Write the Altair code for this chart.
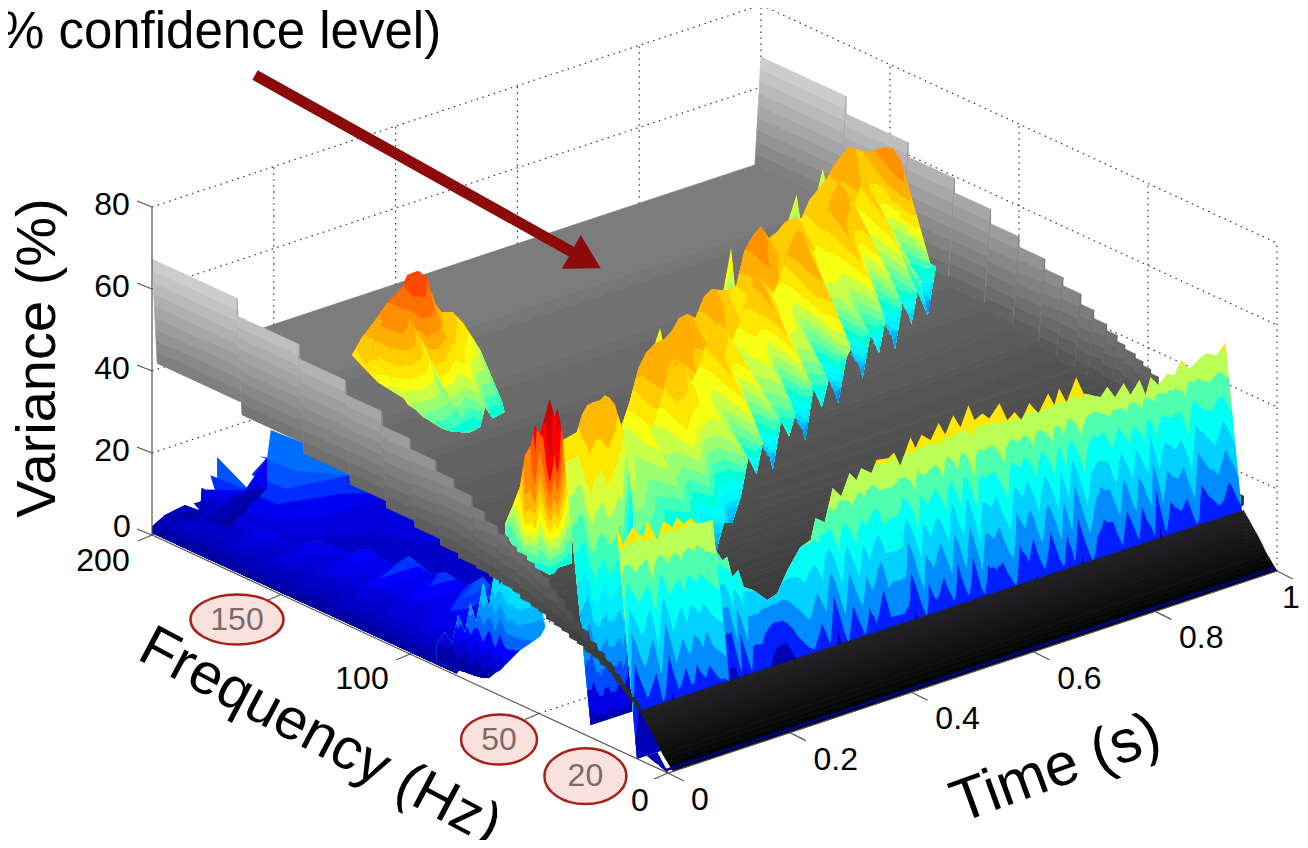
import math
import altair as alt

# ---- axis ticks ------------------------------------------------------------
TIME_TICKS = [0, 0.2, 0.4, 0.6, 0.8, 1]
TIME_LABELS = ["0", "0.2", "0.4", "0.6", "0.8", "1"]
FREQ_TICKS = [0, 50, 100, 150, 200]
VAR_TICKS = [0, 20, 40, 60, 80]

# ---- significance surface (grey): one entry per frequency band ---------------
BAND_EDGES = [200,167,143,125,111,100,90,83,76,71,66,62,59,55,52,49,46,43,40,37,34,31,28,25,22,19,16,13,10,7,4,0]
BAND_TOP = [67.3,63,59.5,56,52.5,50,47.5,45.5,43,41,39.5,38,37,36,35,34,32,30.5,28.5,27,25.5,23.5,22,20.5,18.5,16.5,14.5,12.5,10,7,3.5]
BAND_FLAT = [41.5,38.5,36,33.7,32,30.5,29,28,27.5,27,26.5,26,25,24.5,24,23,22.5,22,21,20.5,19.5,19,18,17,15.5,14,12.5,11,8.5,6,3]

# ---- 20 Hz ridge ---------------------------------------------------------------
R20_T = [0,.011,.026,.044,.051,.067,.077,.092,.1,.11,.122,.13,.141,.158,.163,.174,.182,.19,.2,.209,.225,.248,.264,.281,.302,.319,.327,.342,.355,.369,.383,.394,.402,.419,.427,.447,.456,.466,.483,.491,.501,.516,.529,.54,.553,.565,.578,.588,.601,.612,.629,.642,.654,.665,.678,.693,.709,.719,.727,.739,.755,.767,.78,.795,.806,.819,.833,.844,.859,.869,.877,.89,.905,.916,.928,.941,.957,.969,.985,1.0]
R20_Z = [55,49.4,52.9,49.5,53.3,47.7,52,49.6,51.7,49.5,50.4,48.7,48.2,48.1,40.5,37.5,37.9,32.6,33.8,29.2,27.7,24.1,25,29.8,34.4,35.3,40.2,38.5,46.2,43.5,48.5,46.2,48.7,46.7,49.5,49,49.9,46.1,52.3,49.2,52,50,53.5,50.2,54.2,50.7,55.4,51.3,52.3,50.5,53.4,48.6,50,47.5,51,47.8,51.9,48.5,52.2,48.2,53.5,49,47.9,46.7,48.6,45.5,48.2,44.8,47.7,43.5,47.5,45,47,46,49.2,46.3,48,48.8,47.5,49.9]

# ---- chirping ridge ---------------------------------------------------------------
R2_T = [.10,.15,.22,.27,.30,.325,.35,.375,.40,.425,.45,.475,.50,.525,.55,.575,.60,.625,.65,.675,.70,.725,.75,.775,.80,.825,.85,.875,.90,.925,.95,.975,1.0,.98,.98,.98,.98]
R2_F = [63.6,69,76.7,82.2,85.5,88.2,91,93.7,96.4,99.2,101.9,104.7,107.4,110.1,112.9,115.6,118.4,121.1,123.8,126.6,129.3,132,134.8,137.5,140.3,143,145.8,148.5,151.2,154,156.7,159.5,162.2,152.9,147.9,144,141]
R2_Z = [48,49,50,46.5,51.4,57.2,59,59,57.9,57.8,59.2,58.2,55.2,58.3,58.2,55.9,53.9,52.9,59.6,61,61.4,56.4,55.9,56.3,55.2,53.2,55.6,56,56.4,58,58.7,58.4,55.6,58.8,61.5,62.3,60.3]
R2_BASE_F = [33.6,39,46.7,52.2,55.5,58.2,61,63.7,66.4,69.2,71.9,74.7,77.4,80.1,82.9,85.6,88.4,91.1,93.8,96.6,99.3,102,104.8,107.5,110.3,113,115.8,118.5,121.2,124,126.7,129.5,132.2,130,128.7,128.7,128.7]
R2_BASE_Z = [24,23,24,22,25,21,26,24,28,36,30,38,27,37,31,36,26,37,30,36,27,36,38,27,36,29,37,26,37,28,37,26,36,33,36.3,36.3,36.3]
R2B_Z = [46,50,55,57,54,48,50,55,57,53,48,51,56,58,54,49,52,57,59,55,49,53,58,60,56,51,55,52]
TIP_T = [[.462,.487,.499],[.677,.701,.72],[.882,.906,.922],[.962,.987,1.0]]
TIP_F = [[115,118,119],[139,141,144],[162,164,166],[170,173,174]]
TIP_Z = [[47,50.3,43.9],[41.7,52.7,40.7],[43.4,48.8,40.1],[43,48.5,42.4]]

# ---- 150 Hz patch ---------------------------------------------------------------
R150_T = [.117,.133,.151,.174,.199,.207,.225,.241,.248,.264,.282,.299,.327]
R150_Z = [52.8,56.2,58.8,62.5,65.2,67.7,67.9,65.4,59.7,55.8,55,51.5,43.5]
R150_BASE_F = [150,143.8,136.8,136,131.4,130.2,130.6,131.8,131.4,133.2,134.5,134,141.5]
R150_BASE_Z = [52.5,47,43.8,38.8,35.7,35.4,34,33.5,34,37.6,33.6,34.4,33.3]
R150B_T = [.1325,.146,.167,.187,.203,.223,.239]
R150B_Z = [54.3,59.7,63,60.9,56.2,49.8,40.5]
R150B_BASE_Z = [45,43,39.5,36.6,35,33.8,33.5]

# ---- 50 Hz onset: red lobe, orange lobe, low side ----------------------------------
L1_T = [0,0,.003,.0066,.011,.015,.0186,.026,.034,.039,.048,.055,.062]
L1_F = [63,60,58,57,56,55,54,52,52,52,52,52,52]
L1_Z = [42.7,48,53,60.7,63,68,66,75,70,72,64.2,60,56]
L1_BASE_Z = [40,38,36,35,34,33,33,32,32,33,33,33,33]
L2_T = [.145,.157,.168,.176,.185,.195,.206,.214,.222,.231,.237,.242,.25,.255,.26]
L2_Z = [52.3,52.7,53.1,56.9,58.9,59.1,59,59.9,58.8,56.6,53.1,50.7,43,37,30.3]
L2_BASE_T = [0,.005,.01,.015,.02,.025,.03,.035,.04,.045,.05,.055,.06,.065,.07]
S0_F = [92,89,86,83.7,81,79,76.7,74,71.7,69.4,67.4,64.7,62.4,59.7,52,50]
S0_Z = [4,8,6,13.8,10,18,14,24.4,19,30,25,39.3,33,34,26.6,20.6]
S0_BASE_Z = [0,0,0,.3,.6,.7,.9,1.2,1.9,3.8,5,7.6,9.7,12.2,17.7,20.6]

# ---- low-variance high-frequency floor --------------------------------------------
LOW_T = [0,.021,.054,.079,.082,.107,.107,.16,.17,.189,.189,.195,.2,.22,.25,.25,.25,.25]
LOW_F = [200,200,200,200,200,200,200,200,200,200,200,200,187,175,166,147,127,110]
LOW_Z = [2,3.8,4.6,2,7.4,3.9,13.7,3,4.2,2,9.6,16,16,11,8,7,6,4]
LOW_BASE_F = [200,198,196,194,192,190,188,186,184,182,180,176,165,150,135,120,100,84]
LOW_BASE_Z = [.5,.5,.5,.5,.5,.5,.5,.5,.5,.5,.5,.5,.5,.5,.5,.5,.5,.5]
LOW2_T = [.02,.03,.05,.05,.07,.07,.09,.09,.10,.10,.11,.11,.12,.12,.12,.12]
LOW2_F = [195,185,176,168,160,152,145,138,130,124,118,112,106,100,94,88]
LOW2_Z = [4,6,5,8,6,9,7,10,8,12,9,11,9,13,10,8]
LOW3_T = [.01,.02,.03,.03,.04,.04,.05,.05,.05,.05,.05,.05]
LOW3_F = [165,156,148,140,132,125,118,111,104,97,90,83]
LOW3_Z = [4,5,4.5,6,5,7,6,8,7,9,7,6]

JET_DOMAIN = [0, 10, 30, 50, 70, 80]
JET_RANGE = ["#00008f", "#0000ff", "#00ffff", "#ffff00", "#ff0000", "#800000"]


def project(t, f, z):
    return [round(668 + 609 * t - 2.58 * f, 1), round(773 - 202 * t - 1.19 * f - 4.1 * z, 1)]


def poly(pts, v):
    ring = [project(*p) for p in pts]
    ring.append(ring[0])
    return {"type": "Feature", "v": v, "geometry": {"type": "Polygon", "coordinates": [ring]}}


def path(pts):
    return {"type": "Feature", "geometry": {"type": "LineString", "coordinates": [project(*p) for p in pts]}}


def lerp(a, b, s):
    return a + (b - a) * s


def sheet(T, F, Z, T2, F2, Z2, step, gain=0.0, sub=3, power=1.0, foot=0.0):
    """Colour bands of one strip of surface, from its crest to its foot: each band
    is one polygon bounded by the curve where the surface value crosses a level."""
    n = len(T)
    detail, foot_detail = [], []
    for i in range(n):
        w = Z[max(0, i - 2):i + 3]
        detail.append(max(-2, min(2, Z[i] - sum(w) / len(w))))
        w2 = Z2[max(0, i - 2):i + 3]
        foot_detail.append(Z2[i] - sum(w2) / len(w2))
    cols = []
    for i in range(n - 1):
        for j in range(sub):
            cols.append((i, j / sub))
    cols.append((n - 2, 1.0))
    nscan = 50

    def value(c, s):
        i, a = c
        zc = lerp(Z[i], Z[i + 1], a)
        zb = lerp(Z2[i], Z2[i + 1], a)
        d = lerp(detail[i], detail[i + 1], a)
        d2 = lerp(foot_detail[i], foot_detail[i + 1], a)
        return lerp(zc, zb, s ** power) + gain * d * 4 * s * (1 - s) + foot * d2 * s

    def point(c, s):
        i, a = c
        return (lerp(lerp(T[i], T[i + 1], a), lerp(T2[i], T2[i + 1], a), s),
                lerp(lerp(F[i], F[i + 1], a), lerp(F2[i], F2[i + 1], a), s),
                lerp(lerp(Z[i], Z[i + 1], a), lerp(Z2[i], Z2[i + 1], a), s))

    table = [[value(c, q / nscan) for q in range(nscan + 1)] for c in cols]
    vmax = max(max(r) for r in table)
    vmin = min(min(r) for r in table)
    level = math.ceil(vmax / step) * step
    out = []
    bottom = [point(c, 1.0) for c in reversed(cols)]
    out.append(poly([point(c, 0.0) for c in cols] + bottom, max(0, level - step / 2)))
    level -= step
    while level > vmin:
        top = []
        for c, row in zip(cols, table):
            q = next((k for k, v in enumerate(row) if v < level), nscan)
            top.append(point(c, q / nscan))
        out.append(poly(top + bottom, max(0, level - step / 2)))
        level -= step
    return out


# ---------- grey surface ----------
T_IN, T_OUT = 0.0085, 0.99
back, front = [], []
n_band = len(BAND_TOP)
for b in range(n_band):
    hi, lo = BAND_EDGES[b], BAND_EDGES[b + 1]
    top, flat = BAND_TOP[b], BAND_FLAT[b]
    nxt_flat = BAND_FLAT[b + 1] if b + 1 < n_band else 0
    nxt_top = BAND_TOP[b + 1] if b + 1 < n_band else 0
    if lo < 13:
        # the bands next to 0 Hz slope smoothly to the floor
        for u in range(4):
            f0, f1 = lerp(hi, lo, u / 4), lerp(hi, lo, (u + 1) / 4)
            z0, z1 = lerp(flat, nxt_flat, u / 4), lerp(flat, nxt_flat, (u + 1) / 4)
            front.append(poly([(T_IN, f0, z0), (1, f0, z0), (1, f1, z1), (T_IN, f1, z1)], (z0 + z1) / 2))
        continue
    ribs = max(1, round((top - flat) / 2.8))
    for r in range(ribs):
        z0, z1 = lerp(flat, top, r / ribs), lerp(flat, top, (r + 1) / ribs)
        t0, t1 = lerp(T_OUT, 1, r / ribs), lerp(T_OUT, 1, (r + 1) / ribs)
        back.append(poly([(t0, hi, z0), (t1, hi, z1), (t1, lo, z1), (t0, lo, z0)], (z0 + z1) / 2))
    back.append(poly([(T_OUT, lo, flat), (1, lo, top), (1, lo, nxt_top), (T_OUT, lo, nxt_flat)], (flat + top) / 2))
    back.append(poly([(T_IN, hi, flat), (T_OUT, hi, flat), (T_OUT, lo, flat), (T_IN, lo, flat)], flat))
    back.append(poly([(T_IN, lo, flat), (T_OUT, lo, flat), (T_OUT, lo, nxt_flat), (T_IN, lo, nxt_flat)], (flat + nxt_flat) / 2))
    for r in range(ribs):
        z0, z1 = lerp(flat, top, r / ribs), lerp(flat, top, (r + 1) / ribs)
        t0, t1 = lerp(T_IN, 0, r / ribs), lerp(T_IN, 0, (r + 1) / ribs)
        front.append(poly([(t0, hi, z0), (t1, hi, z1), (t1, lo, z1), (t0, lo, z0)], (z0 + z1) / 2))
    front.append(poly([(T_IN, lo, flat), (0, lo, top), (0, lo, nxt_top), (T_IN, lo, nxt_flat)], (flat + top) / 2))

# ---------- coloured surface, painted back to front ----------
colored = []
colored += sheet(LOW_T, LOW_F, LOW_Z, [0] * len(LOW_T), LOW_BASE_F, LOW_BASE_Z, 2.0, 0, 1, 1.2)
colored += sheet(LOW2_T, LOW2_F, LOW2_Z, [0] * len(LOW2_T), [200 - 7.7 * i for i in range(len(LOW2_T))], [.5] * len(LOW2_T), 1.5, 0, 2, 2.0)
colored += sheet(LOW3_T, LOW3_F, LOW3_Z, [0] * len(LOW3_T), [170 - 8 * i for i in range(len(LOW3_T))], [.5] * len(LOW3_T), 1.5, 0, 2, 2.0)
colored += sheet(R150_T, [150] * len(R150_T), R150_Z, R150_T, R150_BASE_F, R150_BASE_Z, 3.0, 0, 3, 1.5, 1.5)
n = len(R150B_T)
colored += sheet(R150B_T, [146] * n, R150B_Z, R150B_T, [132] * n, R150B_BASE_Z, 3.0, 0, 3, 1.4)
for tt, ff, zz in zip(TIP_T, TIP_F, TIP_Z):
    colored += sheet(tt, ff, zz, tt, ff, [v - 10 for v in zz], 4.0, 0, 1)
colored += sheet(R2_T, R2_F, R2_Z, R2_T, R2_BASE_F, R2_BASE_Z, 3.0, 0, 3, 1.7, 1.6)
inner_t = R2_T[4:32]
colored += sheet(inner_t, [v - 8 for v in R2_F[4:32]], R2B_Z, inner_t, R2_BASE_F[4:32], R2_BASE_Z[4:32], 3.0, 0, 3, 1.7, 1.6)
colored += sheet(L1_T, L1_F, L1_Z, L1_T, L1_F, L1_BASE_Z, 4.0, 2.0, 3, 1.8)
s0_t = [0.01] * len(S0_F)
colored += sheet(s0_t, S0_F, S0_Z, s0_t, S0_F, S0_BASE_Z, 4.0, 1.0, 3)
n = len(L2_T)
colored += sheet(L2_T, [75] * n, L2_Z, L2_BASE_T, [30] * n, [3] * n, 5.0, 2.0, 3, 1.2)
colored += sheet([0, 0, 0], [12, 6, 0], [10.5, 5.5, 0], [0, 0, 0], [9, 4, 0], [2, 1, 0], 2.0, 0, 1)
n = len(R20_T)
colored += sheet(R20_T, [20] * n, R20_Z, R20_T, [12] * n, [0] * n, 7.0, 3.0, 3, 0.88)

# ---------- box, grid, axes ----------
grid = []
for z in VAR_TICKS[1:]:
    grid.append(path([(0, 200, z), (1, 200, z), (1, 0, z)]))
for t in TIME_TICKS[1:-1]:
    grid.append(path([(t, 0, 0), (t, 200, 0), (t, 200, 80)]))
for f in FREQ_TICKS[1:-1]:
    grid.append(path([(0, f, 0), (1, f, 0), (1, f, 80)]))
grid.append(path([(1, 0, 0), (1, 0, 80)]))
grid.append(path([(1, 200, 0), (1, 200, 80)]))
grid.append(path([(0, 200, 0), (1, 200, 0), (1, 0, 0)]))

axes = [path([(0, 200, 0), (0, 200, 80)]), path([(0, 200, 0), (0, 0, 0), (1, 0, 0)])]


def shifted(base, dx, dy):
    return {"type": "Feature", "geometry": {"type": "LineString", "coordinates": [base, [base[0] + dx, base[1] + dy]]}}


for z in VAR_TICKS:
    axes.append(shifted(project(0, 200, z), -15, -6))
for f in FREQ_TICKS:
    axes.append(shifted(project(0, f, 0), -14, 6))
for t in TIME_TICKS:
    axes.append(shifted(project(t, 0, 0), 16, 8))

PROJ = dict(type="identity", scale=1, translate=[-8, -8])
gray_scale = alt.Scale(domain=[0, 80], range=["#000000", "#ffffff"])
jet_scale = alt.Scale(domain=JET_DOMAIN, range=JET_RANGE)


def surface(features, scale, outline=True):
    enc = {"fill": alt.Fill("v:Q", scale=scale, legend=None)}
    if outline:
        enc["stroke"] = alt.Stroke("v:Q", scale=scale, legend=None)
    return (alt.Chart(alt.Data(values=features)).mark_geoshape(strokeWidth=0.7 if outline else 0)
            .encode(**enc).project(**PROJ))


def lines(features, **kw):
    return alt.Chart(alt.Data(values=features)).mark_geoshape(filled=False, **kw).project(**PROJ)


def texts(rows, size, color="#000000", angle=0):
    return (alt.Chart(alt.Data(values=rows))
            .mark_text(font="Liberation Sans", fontSize=size, color=color, angle=angle,
                       align="center", baseline="middle")
            .encode(longitude="x:Q", latitude="y:Q", text="s:N")
            .project(**PROJ))


def at(base, dx, dy, s=""):
    return {"x": base[0] + dx, "y": base[1] + dy, "s": s}


tick_rows = []
for z in VAR_TICKS:
    p = project(0, 200, z)
    tick_rows.append(at(p, -40 if z else -30, -2 if z else -8, str(z)))
tick_rows.append(at(project(0, 200, 0), -49, 26, "200"))
tick_rows.append(at(project(0, 100, 0), -48, 25, "100"))
tick_rows.append(at(project(0, 0, 0), -28, 28, "0"))
for t, s in zip(TIME_TICKS, TIME_LABELS):
    tick_rows.append(at(project(t, 0, 0), 32 if t == 0 else (46 if t < 1 else 14), 27, s))

circled = [("150", project(0, 150, 0), -44, 25, 93, 0.54),
           ("50", project(0, 50, 0), -40, 26, 76, 0.66),
           ("20", project(0, 20, 0), -31, 27, 82, 0.68)]
ellipses = []
circle_rows = []
for s, p, dx, dy, w, r in circled:
    shape = f"M-1,0A1,{r},0,1,1,1,0A1,{r},0,1,1,-1,0Z"
    ellipses.append(alt.Chart(alt.Data(values=[at(p, dx, dy)]))
                    .mark_point(shape=shape, size=w * w, filled=True, fill="#f9e1de", stroke="#a8201a",
                                strokeWidth=2.5, opacity=1)
                    .encode(longitude="x:Q", latitude="y:Q").project(**PROJ))
    circle_rows.append(at(p, dx, dy, s))

ARROW_FROM = [255, 75]
ARROW_TO = [572, 252]
HEAD_AT = [586, 260]
shaft = lines([{"type": "Feature", "geometry": {"type": "LineString", "coordinates": [ARROW_FROM, ARROW_TO]}}],
              stroke="#8c0a0a", strokeWidth=11)
head = (alt.Chart(alt.Data(values=[{"x": HEAD_AT[0], "y": HEAD_AT[1]}]))
        .mark_point(shape="triangle-up", size=1500, filled=True, fill="#8c0a0a", opacity=1, angle=119)
        .encode(longitude="x:Q", latitude="y:Q").project(**PROJ))

layers = [
    lines(grid, stroke="#333333", strokeWidth=1.2, strokeDash=[1.5, 4.5]),
    surface(back, gray_scale),
    surface(colored, jet_scale, False),
    surface(front, gray_scale),
    lines([path([(0, 1.0, .4), (1, 1.0, .4)])], stroke="#00008b", strokeWidth=2.5),
    lines(axes, stroke="#555555", strokeWidth=1.2),
    shaft, head,
] + ellipses + [
    texts(tick_rows, 32),
    texts(circle_rows, 32, "#7d6a6a"),
    texts([{"x": 320, "y": 737, "s": "Frequency (Hz)"}], 58, angle=28),
    texts([{"x": 1056, "y": 769, "s": "Time (s)"}], 60, angle=340),
    texts([{"x": 38, "y": 358, "s": "Variance (%)"}], 56, angle=270),
    texts([{"x": 220, "y": 33, "s": "% confidence level)"}], 51),
]

chart = (alt.layer(*layers)
         .resolve_scale(fill="independent", stroke="independent")
         .properties(width=1292, height=832, padding=0, background="#ffffff", autosize=alt.AutoSizeParams(type="none"))
         .configure_view(stroke=None))

chart.save("out.html", embed_options={"renderer": "svg", "actions": False})
